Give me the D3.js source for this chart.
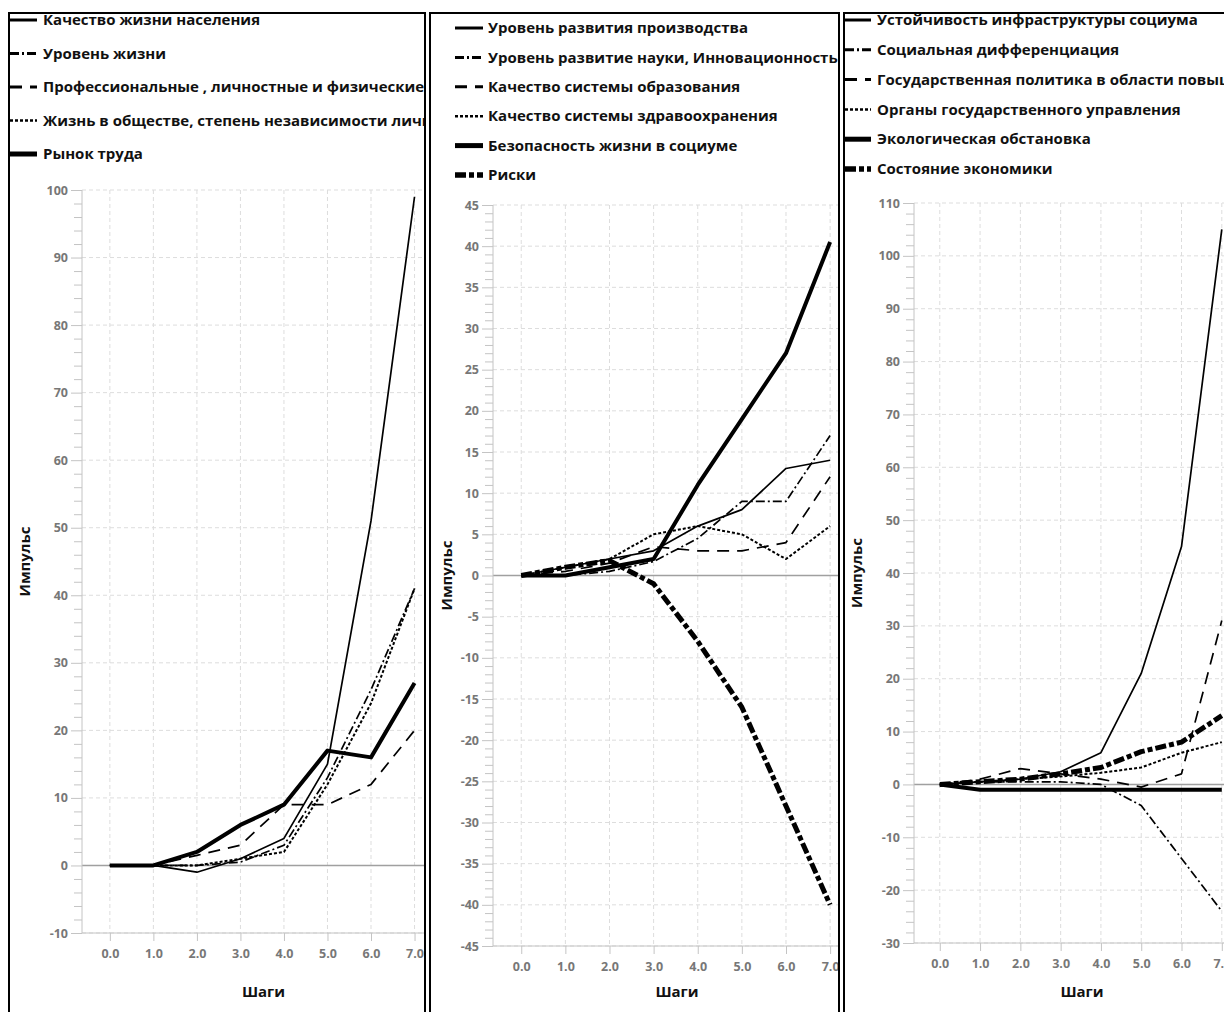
<!DOCTYPE html>
<html>
<head>
<meta charset="utf-8">
<script src="https://cdn.jsdelivr.net/npm/d3@7"></script>
<style>
  html, body { margin: 0; padding: 0; background: #fff; }
  body { width: 1224px; height: 1012px; overflow: hidden; }
  .legend text { font-family: "Open Sans", "Noto Sans", sans-serif; font-weight: 700; font-size: 15px; fill: #111; }
  .tick text { font-family: "Open Sans", "Noto Sans", sans-serif; font-weight: 700; font-size: 12.5px; fill: #777; }
  .title { font-family: "Open Sans", "Noto Sans", sans-serif; font-weight: 700; font-size: 15px; fill: #111; }
</style>
</head>
<body>
<script>
const width = 1224;
const height = 1012;

// shared x values (steps)
const steps = [0, 1, 2, 3, 4, 5, 6, 7];

// panel 1
const names1 = [
  "Качество жизни населения",
  "Уровень жизни",
  "Профессиональные , личностные и физические качества",
  "Жизнь в обществе, степень независимости личности",
  "Рынок труда",
];
const kachestvoZhizni = [0, 0, -1, 1, 4, 15, 51, 99];
const urovenZhizni = [0, 0, 0, 0.5, 3, 13, 26, 41];
const professionalnye = [0, 0, 1.5, 3, 9, 9, 12, 20];
const zhiznVObshchestve = [0, 0, 0, 1, 2, 12, 24, 41];
const rynokTruda = [0, 0, 2, 6, 9, 17, 16, 27];
const yTicks1 = [-10, 0, 10, 20, 30, 40, 50, 60, 70, 80, 90, 100];

// panel 2
const names2 = [
  "Уровень развития производства",
  "Уровень развитие науки, Инновационность",
  "Качество системы образования",
  "Качество системы здравоохранения",
  "Безопасность жизни в социуме",
  "Риски",
];
const proizvodstvo = [0, 1, 2, 3, 6, 8, 13, 14];
const nauka = [0, 0, 0.5, 1.7, 4.5, 9, 9, 17];
const obrazovanie = [0, 0.5, 1.5, 3.5, 3, 3, 4, 12];
const zdravoohranenie = [0, 1, 2, 5, 6, 5, 2, 6];
const bezopasnost = [0, 0, 1, 2, 11, 19, 27, 40.5];
const riski = [0, 1, 1.8, -1, -8, -16, -28, -40];
const yTicks2 = [-45, -40, -35, -30, -25, -20, -15, -10, -5, 0, 5, 10, 15, 20, 25, 30, 35, 40, 45];

// panel 3
const names3 = [
  "Устойчивость инфраструктуры  социума",
  "Социальная дифференциация",
  "Государственная политика в области повышения качества жизни",
  "Органы государственного управления",
  "Экологическая обстановка",
  "Состояние экономики",
];
const ustoichivost = [0, 0.5, 1, 2.4, 6, 21, 45, 105];
const differenciaciya = [0, 0.5, 0.5, 0.5, 0, -4, -14, -24];
const politika = [0, 1, 3, 2, 1, -0.5, 2, 31];
const organy = [0, 0.5, 1, 1.5, 2.2, 3.2, 6, 8];
const ekologiya = [0, -1, -1, -1, -1, -1, -1, -1];
const ekonomika = [0, 0.5, 1, 2, 3.2, 6.2, 8, 13];
const yTicks3 = [-30, -20, -10, 0, 10, 20, 30, 40, 50, 60, 70, 80, 90, 100, 110];

const xLabel = "Шаги";
const yLabel = "Импульс";

// line styles (order of each panel's legend)
const styles = {
  solid: { w: 1.7, lw: 3, dash: null },
  dashDot: { w: 1.7, lw: 3, dash: "9,3,2,3" },
  dash: { w: 1.7, lw: 3, dash: "12,8" },
  dot: { w: 2, lw: 2.5, dash: "3,2" },
  thick: { w: 4, lw: 5, dash: null },
  thickDashDot: { w: 5, lw: 5.5, dash: "11,3,5,3" },
};

const panels = [
  {
    box: [9, 13, 425], plot: [82, 445, 190, 933], yDomain: [-10, 100], minor: 2,
    ticks: yTicks1, legend: [10, 37, 43, 20, 33.5],
    series: [
      [names1[0], kachestvoZhizni, styles.solid],
      [names1[1], urovenZhizni, styles.dashDot],
      [names1[2], professionalnye, styles.dash],
      [names1[3], zhiznVObshchestve, styles.dot],
      [names1[4], rynokTruda, styles.thick],
    ],
    yLabelX: 30,
  },
  {
    box: [430, 13, 839], plot: [493, 861, 205, 946], yDomain: [-45, 45], minor: 1,
    ticks: yTicks2, legend: [455, 483, 488, 28, 29.4],
    series: [
      [names2[0], proizvodstvo, styles.solid],
      [names2[1], nauka, styles.dashDot],
      [names2[2], obrazovanie, styles.dash],
      [names2[3], zdravoohranenie, styles.dot],
      [names2[4], bezopasnost, styles.thick],
      [names2[5], riski, styles.thickDashDot],
    ],
    yLabelX: 452,
  },
  {
    box: [844, 13, 1240], plot: [914, 1250, 203, 943], yDomain: [-30, 110], minor: 2,
    ticks: yTicks3, legend: [845, 871, 877, 20, 29.8],
    series: [
      [names3[0], ustoichivost, styles.solid],
      [names3[1], differenciaciya, styles.dashDot],
      [names3[2], politika, styles.dash],
      [names3[3], organy, styles.dot],
      [names3[4], ekologiya, styles.thick],
      [names3[5], ekonomika, styles.thickDashDot],
    ],
    yLabelX: 862,
  },
];

// plain hyphen for negatives, as in the original
const fmtInt = (d) => String(d);

const svg = d3.create("svg")
  .attr("width", width)
  .attr("height", height)
  .attr("viewBox", [0, 0, width, height]);

const defs = svg.append("defs");

panels.forEach((p, i) => {
  const [bl, bt, br] = p.box;
  const [pl, pr, pt, pb] = p.plot;

  defs.append("clipPath").attr("id", `clip${i}`)
    .append("rect").attr("x", bl + 1).attr("y", bt + 1)
    .attr("width", br - bl - 2).attr("height", height);

  const g = svg.append("g").attr("clip-path", `url(#clip${i})`);

  const x = d3.scaleLinear().domain([-0.64, 7.7]).range([pl, pr]);
  const y = d3.scaleLinear().domain(p.yDomain).range([pb, pt]);

  // grid
  g.append("g").selectAll("line").data(p.ticks).join("line")
    .attr("x1", pl).attr("x2", pr)
    .attr("y1", (d) => y(d)).attr("y2", (d) => y(d))
    .attr("stroke", "#ddd").attr("stroke-dasharray", "4,3");
  g.append("g").selectAll("line").data(steps).join("line")
    .attr("x1", (d) => x(d)).attr("x2", (d) => x(d))
    .attr("y1", pt).attr("y2", pb)
    .attr("stroke", "#ddd").attr("stroke-dasharray", "4,3");

  // zero line
  g.append("line")
    .attr("x1", pl).attr("x2", pr)
    .attr("y1", y(0)).attr("y2", y(0))
    .attr("stroke", "#a0a0a0").attr("stroke-width", 1.5);

  // y axis: minor then major ticks
  const minorTicks = d3.range(p.yDomain[0], p.yDomain[1] + 0.001, p.minor)
    .filter((v) => !p.ticks.includes(v));
  g.append("g")
    .attr("transform", `translate(${pl},0)`)
    .call(d3.axisLeft(y).tickValues(minorTicks).tickSize(8).tickFormat(""))
    .call((a) => a.select(".domain").remove());
  const yAxis = g.append("g")
    .attr("transform", `translate(${pl},0)`)
    .call(d3.axisLeft(y).tickValues(p.ticks).tickSize(11).tickPadding(3).tickFormat(fmtInt));
  g.selectAll(".tick line").attr("stroke", "#c4c4c4");
  yAxis.select(".domain").attr("stroke", "#c4c4c4").attr("d", `M0,${pt}V${pb}`);

  // x axis
  const xAxis = g.append("g")
    .attr("transform", `translate(0,${pb})`)
    .call(d3.axisBottom(x).tickValues(steps).tickSize(8).tickPadding(8).tickFormat(d3.format(".1f")));
  xAxis.select(".domain").attr("stroke", "#c4c4c4").attr("d", `M${pl},0H${pr}`);
  xAxis.selectAll(".tick line").attr("stroke", "#c4c4c4");
  g.selectAll(".tick text").attr("font-family", null).attr("font-size", null);

  // axis titles
  g.append("text").attr("class", "title")
    .attr("x", (pl + pr) / 2).attr("y", 997)
    .attr("text-anchor", "middle").text(xLabel);
  g.append("text").attr("class", "title")
    .attr("transform", `translate(${p.yLabelX},${(pt + pb) / 2}) rotate(-90)`)
    .attr("text-anchor", "middle").text(yLabel);

  // series
  const line = d3.line().x((d, j) => x(steps[j])).y((d) => y(d));
  g.append("g").selectAll("path").data(p.series).join("path")
    .attr("d", (s) => line(s[1]))
    .attr("fill", "none")
    .attr("stroke", "#000")
    .attr("stroke-width", (s) => s[2].w)
    .attr("stroke-dasharray", (s) => s[2].dash)
    .attr("stroke-linejoin", "round");

  // legend
  const [sx1, sx2, tx, ly0, ldy] = p.legend;
  const leg = g.append("g").attr("class", "legend")
    .selectAll("g").data(p.series).join("g")
    .attr("transform", (s, j) => `translate(0,${ly0 + j * ldy})`);
  leg.append("line")
    .attr("x1", sx1).attr("x2", sx2)
    .attr("stroke", "#000")
    .attr("stroke-width", (s) => s[2].lw)
    .attr("stroke-dasharray", (s) => s[2].dash);
  leg.append("text")
    .attr("x", tx).attr("dy", "0.35em")
    .text((s) => s[0]);

  // panel border
  svg.append("rect")
    .attr("x", bl).attr("y", bt)
    .attr("width", br - bl).attr("height", height + 20)
    .attr("fill", "none").attr("stroke", "#000").attr("stroke-width", 2);
});

document.body.appendChild(svg.node());
</script>
</body>
</html>
